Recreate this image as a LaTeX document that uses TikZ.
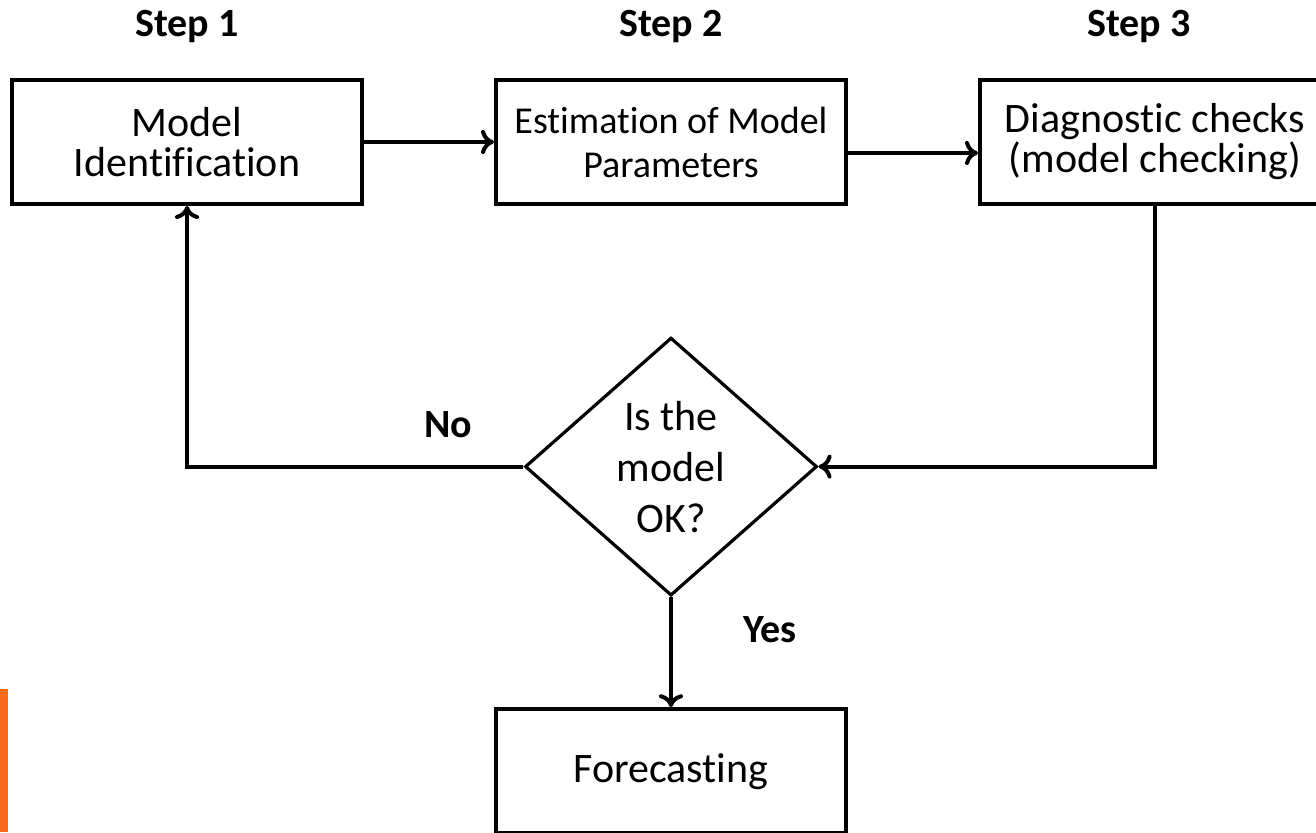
\documentclass[tikz,border=0pt]{standalone}
\usepackage{fontspec}
\setmainfont{Carlito}[Ligatures={NoCommon}]
\usepackage{xcolor}
\usetikzlibrary{positioning, arrows.meta, shapes.geometric}
\definecolor{accent}{HTML}{F96A1B}

\begin{document}
\begin{tikzpicture}[
    x=1pt, y=-1pt,
    node distance=130pt,
    stage/.style={rectangle, draw=black, line width=4pt, minimum width=350pt, minimum height=124pt, inner sep=0pt, align=center, font=\fontsize{42}{40}\selectfont},
    decision/.style={diamond, draw=black, line width=3.2pt, minimum width=292pt, minimum height=258pt, aspect=1.13, inner sep=0pt, align=center, font=\fontsize{42}{51}\selectfont},
    steplabel/.style={inner sep=0pt, font=\bfseries\fontsize{40}{48}\selectfont},
    answer/.style={inner sep=0pt, font=\bfseries\fontsize{40}{48}\selectfont},
    arrow/.style={-{Computer Modern Rightarrow[length=13pt, width=24pt]}, line width=4pt}
]
    \useasboundingbox (0,0) rectangle (1316,832);
    \clip (0,0) rectangle (1316,832);

    % Stages
    \node[stage] (ident) at (187,142) {Model\\Identification};
    \node[stage, right=of ident, font=\fontsize{38}{44}\selectfont] (estim) {Estimation of Model\\Parameters};
    \node[stage, right=of estim] (diag) {Diagnostic checks\\(model checking)};

    % Step titles
    \node[steplabel, above=35pt of ident] (step1) {Step 1};
    \node[steplabel, above=35pt of estim] (step2) {Step 2};
    \node[steplabel, above=35pt of diag, xshift=-16pt] (step3) {Step 3};

    % Decision and result
    \node[decision, below=of estim] (check) {Is the\\model\\OK?};
    \node[stage, below=110pt of check] (fore) {Forecasting};

    % Answers
    \node[answer] (no) at (448,425) {No};
    \node[answer] (yes) at (770,630) {Yes};

    % Edges
    \draw[arrow] (ident) -- (estim);
    \draw[arrow] ([yshift=-11pt]estim.east) -- ([yshift=-11pt]estim.east -| diag.west);
    \draw[arrow] (diag.south) |- (check.east);
    \draw[arrow] (check.west) -| (ident.south);
    \draw[arrow] (check.south) -- (fore.north);

    % Side bar
    \fill[accent] (0,689) rectangle (8,832);

\end{tikzpicture}
\end{document}
